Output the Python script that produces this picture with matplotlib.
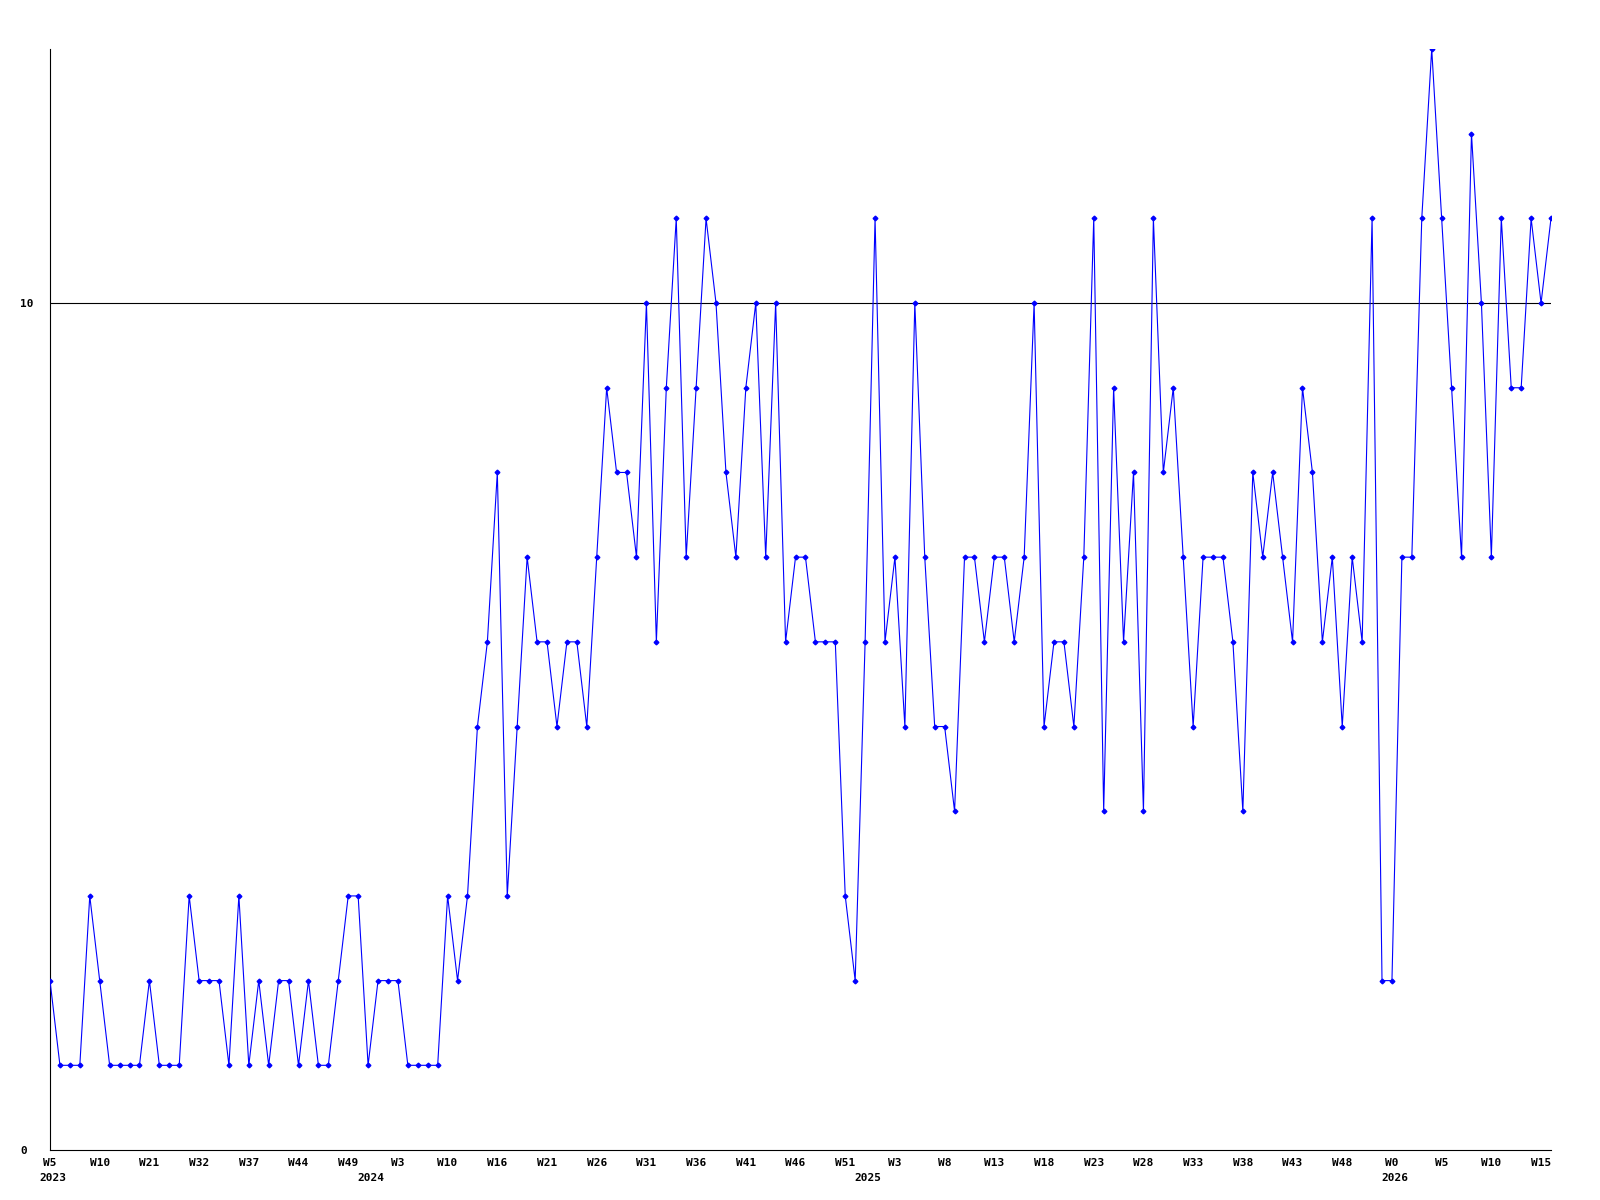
import matplotlib
matplotlib.use("Agg")
import matplotlib.pyplot as plt

# weekly counts (152 weeks)
values = [
    2, 1, 1, 1, 3, 2, 1, 1, 1, 1,
    2, 1, 1, 1, 3, 2, 2, 2, 1, 3,
    1, 2, 1, 2, 2, 1, 2, 1, 1, 2,
    3, 3, 1, 2, 2, 2, 1, 1, 1, 1,
    3, 2, 3, 5, 6, 8, 3, 5, 7, 6,
    6, 5, 6, 6, 5, 7, 9, 8, 8, 7,
    10, 6, 9, 11, 7, 9, 11, 10, 8, 7,
    9, 10, 7, 10, 6, 7, 7, 6, 6, 6,
    3, 2, 6, 11, 6, 7, 5, 10, 7, 5,
    5, 4, 7, 7, 6, 7, 7, 6, 7, 10,
    5, 6, 6, 5, 7, 11, 4, 9, 6, 8,
    4, 11, 8, 9, 7, 5, 7, 7, 7, 6,
    4, 8, 7, 8, 7, 6, 9, 8, 6, 7,
    5, 7, 6, 11, 2, 2, 7, 7, 11, 13,
    11, 9, 7, 12, 10, 7, 11, 9, 9, 11,
    10, 11,
]

# one week label every 5 points
week_labels = [
    "W5", "W10", "W21", "W32", "W37", "W44", "W49", "W3", "W10", "W16",
    "W21", "W26", "W31", "W36", "W41", "W46", "W51", "W3", "W8", "W13",
    "W18", "W23", "W28", "W33", "W38", "W43", "W48", "W0", "W5", "W10",
    "W15",
]
label_step = 5

years = ["2023", "2024", "2025", "2026"]
year_pos = [0, 32, 82, 135]

y_ticks = [0, 10]

font = dict(family="DejaVu Sans Mono", weight="bold", size=8)

fig = plt.figure(figsize=(16, 12), dpi=100)
ax = fig.add_axes([50 / 1600, 1 - 1150 / 1200, 1501 / 1600, 1101 / 1200])

x = list(range(len(values)))
ax.plot(x, values, color="#0000ff", linewidth=0.8, marker="D", markersize=2.4,
        markerfacecolor="#0000ff", markeredgecolor="#0000ff", zorder=3)

# reference line at 10
ax.axhline(10, color="black", linewidth=0.8, zorder=2)

ax.set_xlim(0, len(values) - 1)
ax.set_ylim(0, 13)

# x axis: week labels and years underneath
ax.set_xticks(x[::label_step][:len(week_labels)])
ax.set_xticklabels(week_labels, fontdict=font)
ax.tick_params(axis="x", length=0, pad=6)
for yr, pos in zip(years, year_pos):
    ax.annotate(yr, xy=(pos, 0), xycoords=("data", "axes fraction"),
                xytext=(2, -16.5), textcoords="offset points",
                ha="center", va="top", **font)

# y axis: left aligned labels
ax.set_yticks(y_ticks)
ax.set_yticklabels([str(v) for v in y_ticks], fontdict=font)
ax.tick_params(axis="y", length=0, pad=21.5)
for lbl in ax.get_yticklabels():
    lbl.set_horizontalalignment("left")

for side in ["top", "right"]:
    ax.spines[side].set_visible(False)
for side in ["left", "bottom"]:
    ax.spines[side].set_linewidth(0.8)
    ax.spines[side].set_color("black")

fig.savefig("out.png", dpi=100)
